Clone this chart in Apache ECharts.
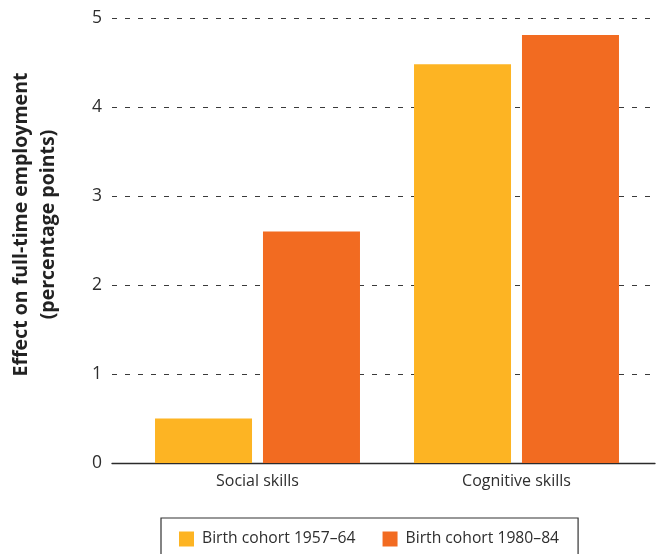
<!DOCTYPE html>
<html>
<head>
<meta charset="utf-8">
<title>Effect on full-time employment</title>
<script src="https://cdn.jsdelivr.net/npm/echarts@6/dist/echarts.min.js"></script>
<style>
  html, body { margin: 0; padding: 0; background: #fff; }
  #chart { width: 657px; height: 554px; }
</style>
</head>
<body>
<div id="chart"></div>
<script>
// Skill categories and the two birth cohorts (effect in percentage points)
const categories = ['Social skills', 'Cognitive skills'];
const cohortNames = ['Birth cohort 1957\u201364', 'Birth cohort 1980\u201384'];
const cohort1957 = [0.5, 4.48];
const cohort1980 = [2.6, 4.81];
const yTicks = { min: 0, max: 5, interval: 1 };

const FONT = '"Open Sans", "Noto Sans", sans-serif';
const TEXT = '#2e2e2e';
const COLORS = ['#FDB423', '#F26B21'];

const chart = echarts.init(document.getElementById('chart'), null, { renderer: 'canvas' });

chart.setOption({
  animation: false,
  textStyle: { fontFamily: FONT },
  color: COLORS,
  grid: [
    // 0: value scale with dashed gridlines
    { left: 112, right: 6, top: 18, bottom: 91, containLabel: false },
    // 1: bars and category labels
    { left: 128, right: 11, top: 18, bottom: 91, containLabel: false },
    // 2: baseline across the full width
    { left: 112, right: 2, top: 18, bottom: 91, containLabel: false }
  ],
  xAxis: [
    { gridIndex: 0, type: 'category', data: categories, show: false },
    {
      gridIndex: 1, type: 'category', data: categories,
      axisLine: { show: false }, axisTick: { show: false },
      axisLabel: { color: TEXT, fontSize: 16, margin: 10, fontFamily: FONT }
    },
    {
      gridIndex: 2, type: 'category', data: categories,
      axisLine: { show: true, lineStyle: { color: '#2b2b2b', width: 1.3 } },
      axisTick: { show: false }, axisLabel: { show: false }
    }
  ],
  yAxis: [
    {
      gridIndex: 0, type: 'value',
      min: yTicks.min, max: yTicks.max, interval: yTicks.interval,
      axisLine: { show: false }, axisTick: { show: false },
      axisLabel: { color: TEXT, fontSize: 17.5, margin: 10, fontFamily: FONT },
      splitLine: {
        show: true,
        lineStyle: { color: '#3a3a3a', width: 1, type: [5, 8] }
      },
      name: 'Effect on full-time employment\n(percentage points)',
      nameLocation: 'middle',
      nameGap: 50,
      nameTextStyle: {
        color: '#222', fontSize: 19.5, fontWeight: 'bold', fontFamily: FONT,
        lineHeight: 27, padding: [0, 0, 0, 32]
      }
    },
    {
      gridIndex: 1, type: 'value',
      min: yTicks.min, max: yTicks.max, interval: yTicks.interval, show: false
    },
    {
      gridIndex: 2, type: 'value',
      min: yTicks.min, max: yTicks.max, interval: yTicks.interval, show: false
    }
  ],
  legend: {
    left: 161, top: 518,
    padding: [13, 19, 24, 18],
    borderColor: '#333', borderWidth: 1.2,
    itemWidth: 15, itemHeight: 15, itemGap: 27,
    icon: 'rect',
    textStyle: { color: TEXT, fontSize: 15.7, fontFamily: FONT, padding: [0, 0, 0, 3] },
    data: cohortNames
  },
  series: [
    {
      name: cohortNames[0], type: 'bar', xAxisIndex: 1, yAxisIndex: 1,
      data: cohort1957, barWidth: 97, barGap: '11.3%',
      itemStyle: { color: COLORS[0] }
    },
    {
      name: cohortNames[1], type: 'bar', xAxisIndex: 1, yAxisIndex: 1,
      data: cohort1980, barWidth: 97, barGap: '11.3%',
      itemStyle: { color: COLORS[1] }
    }
  ]
});
</script>
</body>
</html>
